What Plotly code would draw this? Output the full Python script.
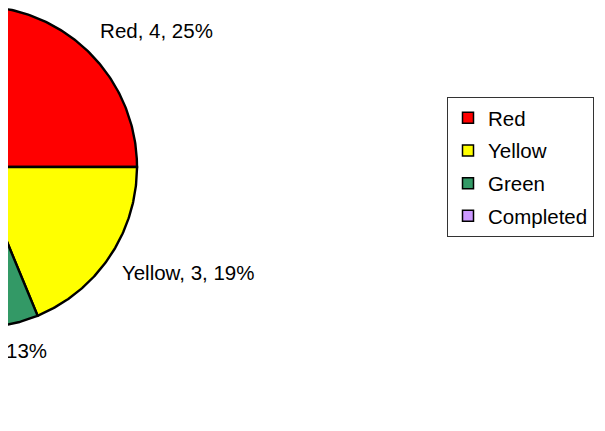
import numpy as np
import plotly.graph_objects as go

labels = ["Red", "Yellow", "Green", "Completed"]
values = [4, 3, 2, 7]
colors = ["#FF0000", "#FFFF00", "#339966", "#CC99FF"]

# page body has an 8px margin, so the figure is drawn 8px in from the corner
W, H = 597, 423
# pie geometry (figure pixels): the centre sits left of the visible area
R_PX = 161.0
CX_PX, CY_PX = -32.0, 159.0

FONT = "Arial, Liberation Sans, sans-serif"

total = float(sum(values))
fracs = np.array(values) / total
starts = np.concatenate([[0.0], np.cumsum(fracs)[:-1]])

fig = go.Figure()

for lab, v, f0, fr, col in zip(labels, values, starts, fracs, colors):
    t = np.linspace(f0, f0 + fr, 120) * 2 * np.pi
    xs = np.concatenate([[0.0], np.sin(t), [0.0]])
    ys = np.concatenate([[0.0], np.cos(t), [0.0]])
    fig.add_trace(go.Scatter(
        x=xs, y=ys, mode="lines", fill="toself", fillcolor=col,
        line=dict(color="black", width=2.4), hoverinfo="skip", showlegend=False,
    ))

# data labels outside each slice at its mid angle
for lab, v, f0, fr in zip(labels, values, starts, fracs):
    mid = (f0 + fr / 2) * 2 * np.pi
    sx, sy = np.sin(mid), np.cos(mid)
    horiz = "right" if sx > 0.2 else ("left" if sx < -0.2 else "center")
    vert = "top" if sy > 0 else "bottom"
    nudge = 5 / R_PX if horiz == "center" else 0.0  # centred labels sit a bit right
    pct = int(v / total * 100 + 0.5)
    fig.add_trace(go.Scatter(
        x=[1.09 * sx + nudge], y=[1.09 * sy], mode="text",
        text=[f"{lab}, {v}, {pct}%"], textposition=f"{vert} {horiz}",
        textfont=dict(family=FONT, size=20.5, color="black"),
        cliponaxis=True, hoverinfo="skip", showlegend=False,
    ))

# legend entries with square swatches
for lab, col in zip(labels, colors):
    fig.add_trace(go.Scatter(
        x=[None], y=[None], mode="markers", name=lab, legendgroup=lab,
        marker=dict(symbol="square", size=11, color=col,
                    line=dict(color="black", width=1.5)),
    ))

x0 = (0 - CX_PX) / R_PX
x1 = (W - CX_PX) / R_PX
y1 = CY_PX / R_PX
y0 = (CY_PX - H) / R_PX

fig.update_layout(
    width=W, height=H,
    margin=dict(l=0, r=0, t=0, b=0),
    paper_bgcolor="white", plot_bgcolor="white",
    xaxis=dict(range=[x0, x1], visible=False, fixedrange=True),
    yaxis=dict(range=[y0, y1], visible=False, fixedrange=True),
    showlegend=True,
    legend=dict(
        x=439 / W, y=1 - 89 / H,
        xanchor="left", yanchor="top",
        bgcolor="white", bordercolor="#333333", borderwidth=1,
        font=dict(family=FONT, size=20.5, color="black"),
        itemwidth=30, tracegroupgap=3,
    ),
)

fig.write_html("out.html")
